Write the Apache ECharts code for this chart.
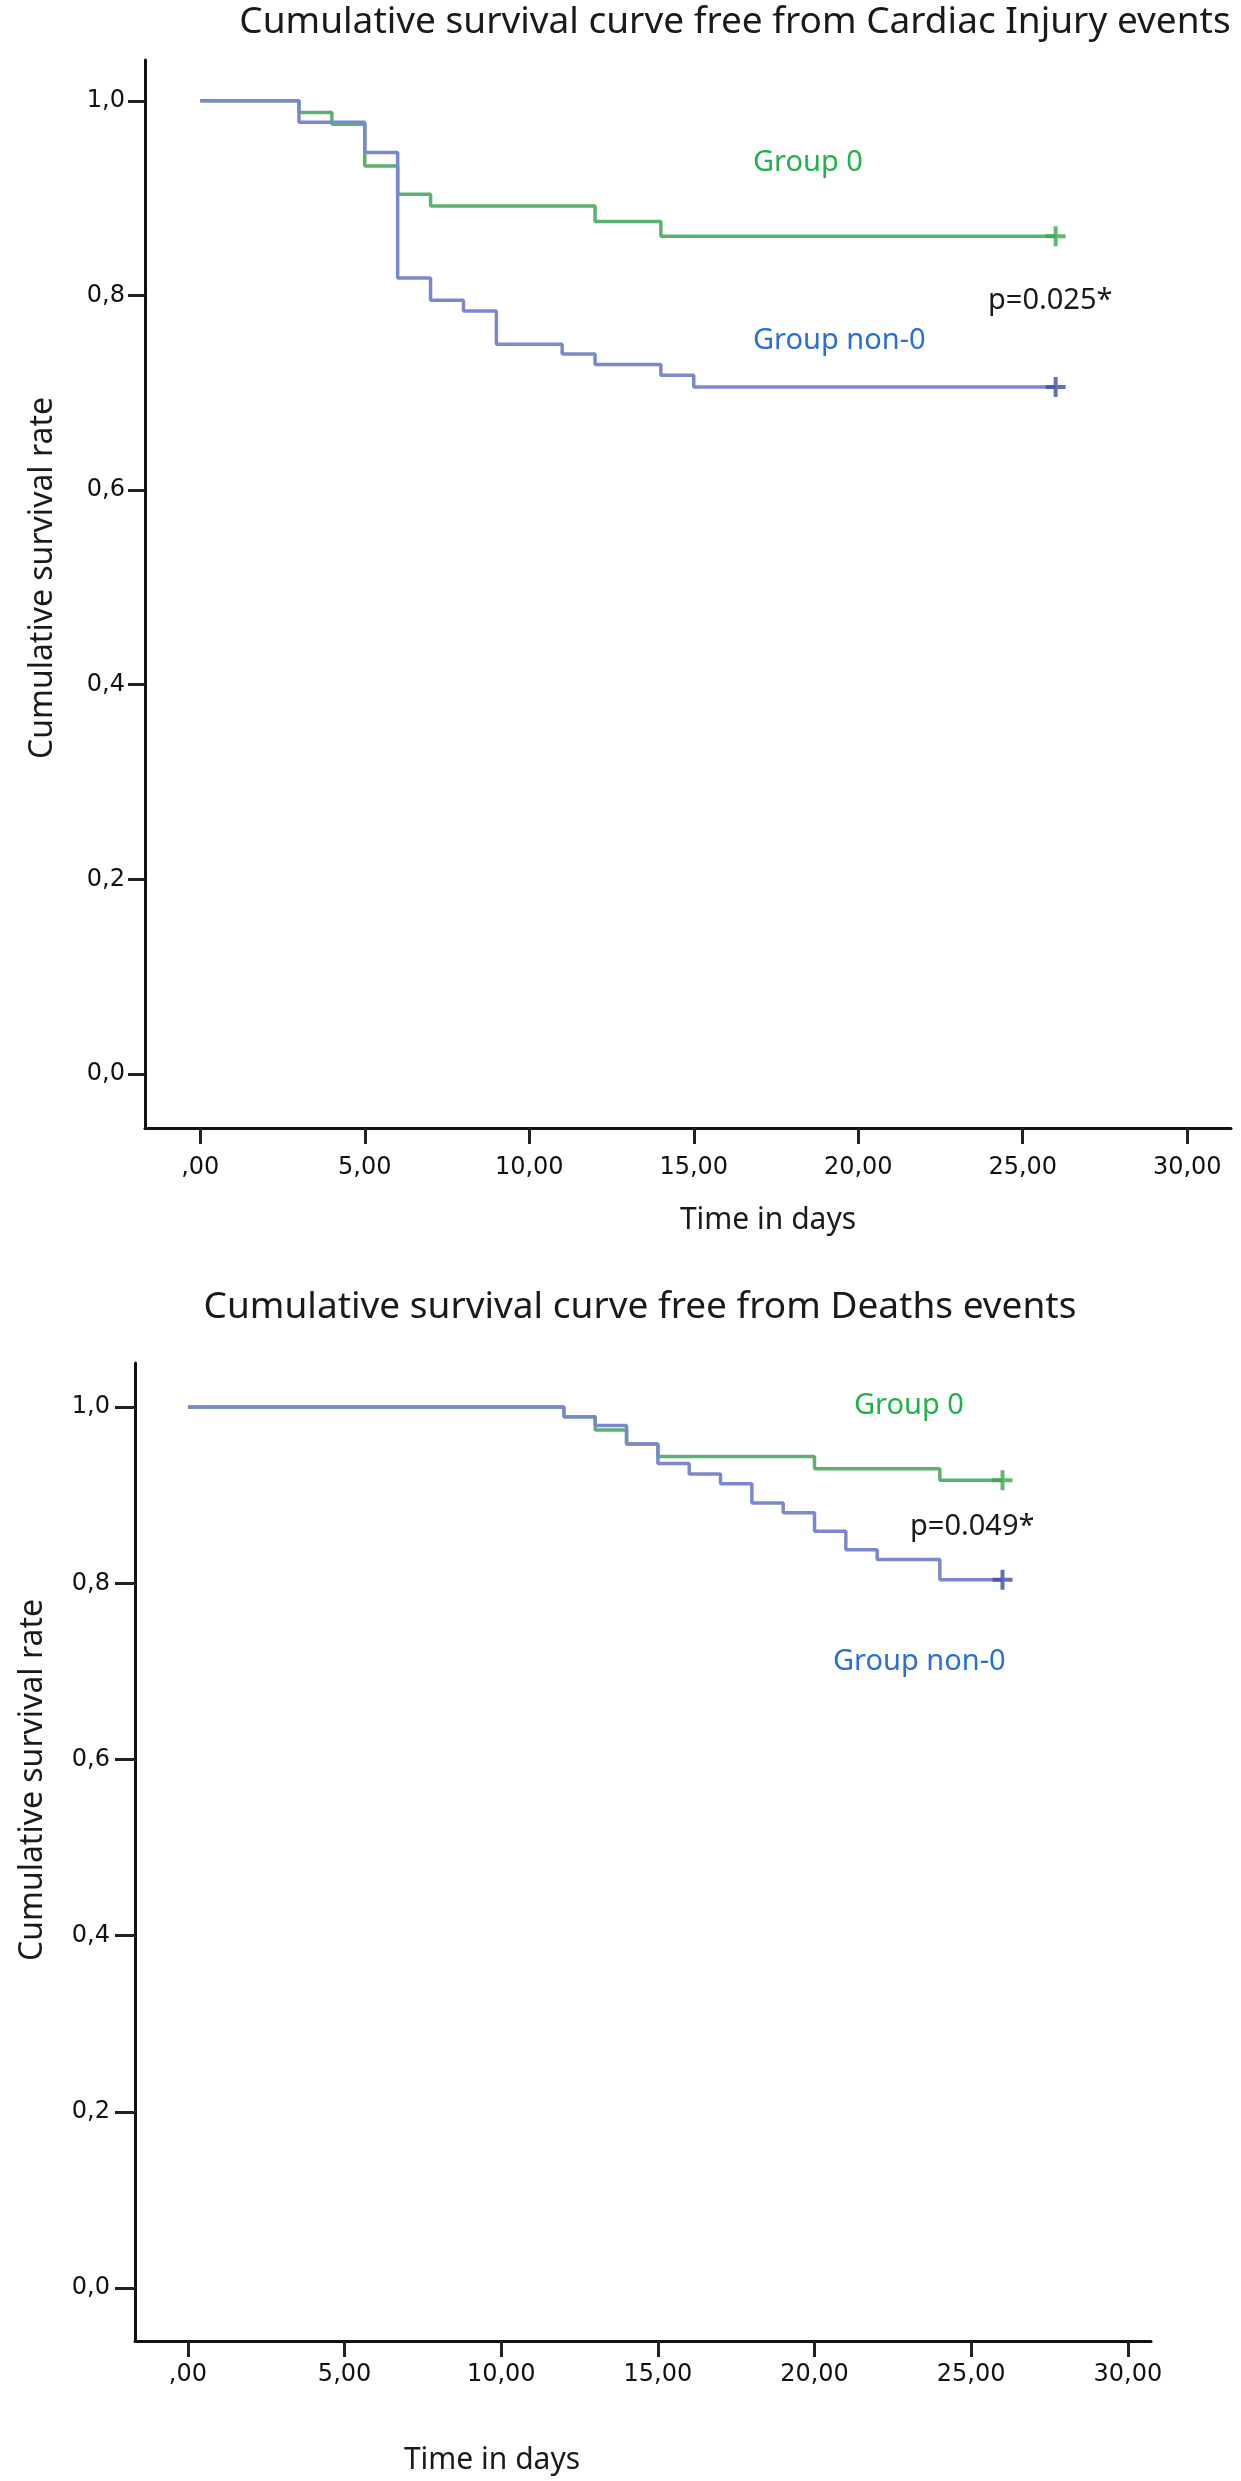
<!DOCTYPE html>
<html><head><meta charset="utf-8">
<script src="https://cdn.jsdelivr.net/npm/echarts@6/dist/echarts.min.js"></script>
<style>html,body{margin:0;padding:0;background:#fff}#c{width:1241px;height:2481px}</style>
</head><body><div id="c"></div>
<script>
// Tick values
const xTicks = [0, 5, 10, 15, 20, 25, 30];
const yTicks = [0, 0.2, 0.4, 0.6, 0.8, 1.0];

// Chart 1: Cardiac Injury events  [time in days, cumulative survival]
const cardiacGroup0 = [[0,1],[3,0.988],[4,0.976],[5,0.933],[6,0.904],[7,0.892],[12,0.876],[14,0.861],[26,0.861]];
const cardiacNon0   = [[0,1],[3,0.978],[5,0.947],[6,0.818],[7,0.795],[8,0.784],[9,0.750],[11,0.740],[12,0.729],[14,0.718],[15,0.706],[26,0.706]];
const cardiacCensor0    = [[26,0.861]];
const cardiacCensorNon0 = [[26,0.706]];

// Chart 2: Deaths events
const deathGroup0 = [[0,1],[12,0.989],[13,0.974],[14,0.958],[15,0.944],[20,0.930],[24,0.917],[26,0.917]];
const deathNon0   = [[0,1],[12,0.989],[13,0.979],[14,0.958],[15,0.936],[16,0.924],[17,0.913],[18,0.891],[19,0.880],[20,0.859],[21,0.838],[22,0.827],[24,0.804],[26,0.804]];
const deathCensor0    = [[26,0.917]];
const deathCensorNon0 = [[26,0.804]];

const titles = ['Cumulative survival curve free from Cardiac Injury events', 'Cumulative survival curve free from Deaths events'];
const pValues = ['p=0.025*', 'p=0.049*'];

const GREEN = '#5cb070', BLUE = '#7c88cc', GREEN_MK = '#3aa64a', BLUE_MK = '#3b4fa3';
const TXT_FONT = '"Noto Sans", "Open Sans", sans-serif';
const TICK_FONT = '"DejaVu Sans", sans-serif';
const plus = 'path://M8,0H12V8H20V12H12V20H8V12H0V8H8Z';

const chart = echarts.init(document.getElementById('c'), null, {renderer: 'canvas'});

function xAxisCfg(grid, min, max, margin) {
  return {
    type: 'value', gridIndex: grid, min: min, max: max, position: 'bottom',
    axisLine: {show: true, onZero: false, lineStyle: {color: '#111', width: 3}},
    axisTick: {show: true, customValues: xTicks, length: 16, lineStyle: {color: '#222', width: 3}},
    axisLabel: {customValues: xTicks, margin: margin, color: '#111', fontFamily: TICK_FONT, fontSize: 24,
      formatter: v => v === 0 ? ',00' : v.toFixed(2).replace('.', ',')},
    splitLine: {show: false}
  };
}
function yAxisCfg(grid, min, max, tickLen, margin) {
  return {
    type: 'value', gridIndex: grid, min: min, max: max, position: 'left',
    axisLine: {show: true, onZero: false, lineStyle: {color: '#111', width: 3}},
    axisTick: {show: true, customValues: yTicks, length: tickLen, lineStyle: {color: '#222', width: 3}},
    axisLabel: {customValues: yTicks, margin: margin, color: '#111', fontFamily: TICK_FONT, fontSize: 24,
      formatter: v => v.toFixed(1).replace('.', ',')},
    splitLine: {show: false}
  };
}
function curve(data, color, idx) {
  return {type: 'line', xAxisIndex: idx, yAxisIndex: idx, data: data, step: 'end', symbol: 'none',
    lineStyle: {color: color, width: 3.5}, silent: true, z: 3};
}
function censor(data, color, idx) {
  return {type: 'scatter', xAxisIndex: idx, yAxisIndex: idx, data: data, symbol: plus, symbolSize: 20,
    itemStyle: {color: color}, silent: true, z: 4};
}
function txt(x, y, s, color, size, align, rot) {
  return {type: 'text', x: x, y: y, rotation: rot || 0,
    style: {text: s, fill: color, font: size + 'px ' + TXT_FONT, textAlign: align || 'left', textVerticalAlign: 'middle'}};
}

chart.setOption({
  animation: false,
  backgroundColor: '#fff',
  grid: [
    {left: 145, top: 60, width: 1086, height: 1068},
    {left: 135, top: 1363, width: 1016, height: 978}
  ],
  xAxis: [xAxisCfg(0, -1.68, 31.33, 28), xAxisCfg(1, -1.69, 30.74, 22)],
  yAxis: [yAxisCfg(0, -0.0555, 1.042, 17, 20), yAxisCfg(1, -0.060, 1.050, 20, 25)],
  series: [
    curve(cardiacGroup0, GREEN, 0), curve(cardiacNon0, BLUE, 0),
    censor(cardiacCensor0, GREEN_MK, 0), censor(cardiacCensorNon0, BLUE_MK, 0),
    curve(deathGroup0, GREEN, 1), curve(deathNon0, BLUE, 1),
    censor(deathCensor0, GREEN_MK, 1), censor(deathCensorNon0, BLUE_MK, 1)
  ],
  graphic: [
    txt(735, 22, titles[0], '#1a1a1a', 37, 'center'),
    txt(753, 163, 'Group 0', '#22b14c', 29),
    txt(988, 301, pValues[0], '#1a1a1a', 29),
    txt(753, 341, 'Group non-0', '#2a6fd6', 29),
    txt(43, 578, 'Cumulative survival rate', '#1a1a1a', 32, 'center', Math.PI / 2),
    txt(768, 1220, 'Time in days', '#1a1a1a', 30, 'center'),

    txt(640, 1307, titles[1], '#1a1a1a', 37, 'center'),
    txt(854, 1406, 'Group 0', '#22b14c', 29),
    txt(910, 1527, pValues[1], '#1a1a1a', 29),
    txt(833, 1662, 'Group non-0', '#2a6fd6', 29),
    txt(33, 1780, 'Cumulative survival rate', '#1a1a1a', 32, 'center', Math.PI / 2),
    txt(492, 2460, 'Time in days', '#1a1a1a', 30, 'center')
  ]
});
</script></body></html>
